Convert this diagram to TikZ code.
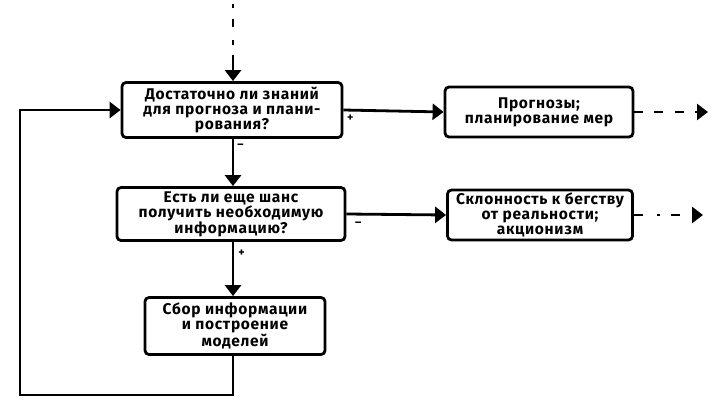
\documentclass[tikz,border=0pt]{standalone}
\usepackage{fontspec}
\setmainfont{Fira Sans}[LetterSpace = 4.5]
\usetikzlibrary{arrows.meta}

\tikzset{
	box/.style = {draw, line width = 2.8pt, rounded corners = 4pt, align = center,
		font = \bfseries\fontsize{15.5}{15}\selectfont, inner sep = 0pt},
	flow/.style = {line width = 2.8pt, -{Triangle[length = 11pt, width = 16pt]}},
	sign/.style = {font = \bfseries\fontsize{12}{12}\selectfont, inner sep = 0pt}
}

\begin{document}
\begin{tikzpicture}[x = 1pt, y = -1pt]
		\useasboundingbox (0, 0) rectangle (715, 409);
		
		\node[box, minimum width = 220pt, minimum height = 55pt] (q1) at (232, 110)
		{Достаточно ли знаний\\для прогноза и плани-\\рования?};
		\node[box, minimum width = 228pt, minimum height = 53pt] (q2) at (231, 214)
		{Есть ли еще шанс\\получить необходимую\\информацию?};
		\node[box, minimum width = 180pt, minimum height = 57pt] (col) at (235, 326)
		{Сбор информации\\и построение\\моделей};
		\node[box, minimum width = 188pt, minimum height = 50pt] (prog) at (539, 112)
		{Прогнозы;\\планирование мер};
		\node[box, minimum width = 185pt, minimum height = 50pt] (esc) at (540, 215)
		{Склонность к бегству\\от реальности;\\акционизм};
		
		\coordinate (in) at (233, 4);
		\coordinate (in2) at (233, 55);
		\coordinate (loop) at (20, 395);
		\coordinate (progout) at (708, 112);
		\coordinate (escout) at (703, 215);
		
		\draw[line width = 2.8pt, dash pattern = on 4pt off 11pt on 8pt off 13pt on 5pt off 10pt] (in) -- (in2);
		\draw[flow] (in2) -- (q1.north -| in2);
		
		\draw[flow] (q1.south -| in2) -- (q2.north -| in2) node[sign, pos = 0.15, right = 3pt] {--};
		\draw[flow] (q2.south -| in2) -- (col.north -| in2) node[sign, pos = 0.2, right = 4pt] {+};
		\draw[flow] (col.south -| in2) |- (loop) |- (q1.west);
		
		\draw[flow] (q1.east) -- (prog.west) node[sign, pos = 0.07, below = 3pt] {+};
		\draw[flow] (q2.east) -- (esc.west) node[sign, pos = 0.12, below = 6pt] {--};
		
		\draw[flow, dash pattern = on 9pt off 11pt on 9pt off 12pt] (prog.east) -- (progout);
		\draw[flow, dash pattern = on 9pt off 14pt on 3pt off 11pt] (esc.east) -- (escout);
	\end{tikzpicture}
\end{document}
